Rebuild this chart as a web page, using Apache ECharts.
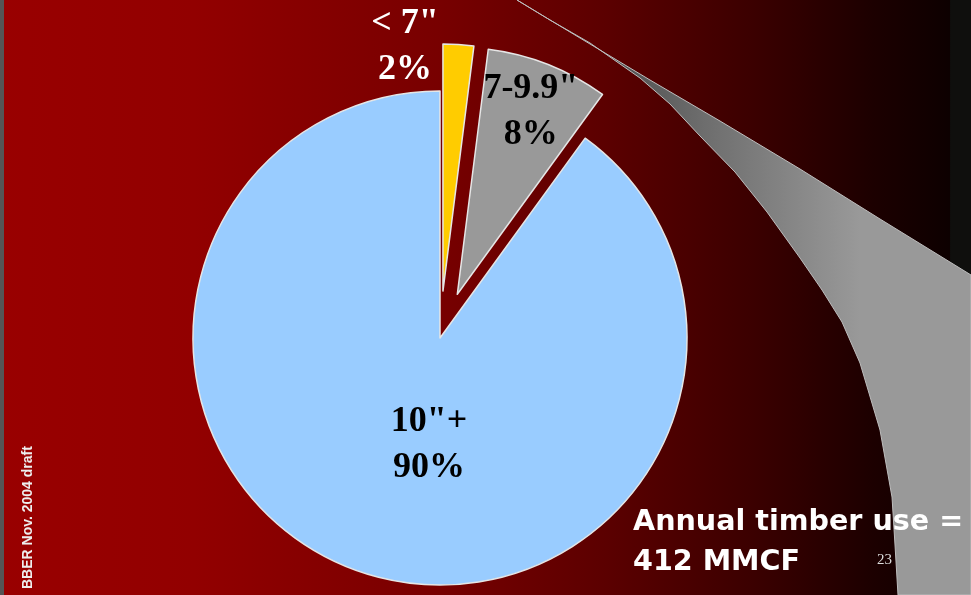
<!DOCTYPE html>
<html>
<head>
<meta charset="utf-8">
<script src="https://cdn.jsdelivr.net/npm/echarts@6/dist/echarts.min.js"></script>
<style>
html,body{margin:0;padding:0;background:#000;}
#chart{width:971px;height:595px;}
</style>
</head>
<body>
<div id="chart"></div>
<script>
// ---- data ----
var categories = ['< 7"', '7-9.9"', '10"+'];
var shares = [2, 8, 90];
var sliceColors = ['#FFCC00', '#999999', '#99CCFF'];
var exploded = [true, true, false];
var labelColors = ['#ffffff', '#000000', '#000000'];
var titleLines = ['Annual timber use =', '412 MMCF'];
var footnote = 'BBER Nov. 2004 draft';
var pageNumber = '23';

// label nudges (pixels) relative to the default inside position
var labelNudge = [[-46, -118], [27, -65], [28, -14]];

var chart = echarts.init(document.getElementById('chart'), null, {renderer: 'canvas'});

var pieData = categories.map(function (c, i) {
  return {
    name: c,
    value: shares[i],
    selected: exploded[i],
    itemStyle: {color: sliceColors[i]},
    label: {color: labelColors[i]}
  };
});

var option = {
  animation: false,
  backgroundColor: {
    type: 'linear', x: 0, y: 0, x2: 1, y2: 0,
    colorStops: [
      {offset: 0, color: '#990000'},
      {offset: 0.2, color: '#920000'},
      {offset: 0.45, color: '#780000'},
      {offset: 0.62, color: '#5c0000'},
      {offset: 0.78, color: '#3a0000'},
      {offset: 0.9, color: '#1c0000'},
      {offset: 0.978, color: '#0d0000'},
      {offset: 0.979, color: '#0f0f0d'},
      {offset: 1, color: '#0f0f0d'}
    ]
  },
  graphic: [
    {type: 'rect', z: 0, shape: {x: 0, y: 0, width: 4, height: 595}, style: {fill: '#555555'}, silent: true},
    {
      type: 'polygon', z: 1, silent: true,
      shape: {
        points: [
          [517, 0], [545, 17], [580, 38], [650, 80], [720, 121], [800, 169], [880, 219], [971, 275],
          [971, 595], [898, 595], [895, 545], [892, 497], [880, 430], [860, 363], [842, 322],
          [822, 290], [800, 258], [767, 212], [735, 172], [700, 136], [670, 104], [640, 78],
          [590, 43], [550, 20]
        ]
      },
      style: {
        fill: {
          type: 'linear', x: 580, y: 0, x2: 860, y2: 0, global: true,
          colorStops: [
            {offset: 0, color: '#444444'},
            {offset: 0.45, color: '#6e6e6e'},
            {offset: 1, color: '#999999'}
          ]
        },
        stroke: '#bdbdbd', lineWidth: 1
      }
    },
    {
      type: 'text', z: 5, silent: true, left: 633, top: 503,
      style: {
        text: titleLines.join('\n'), fill: '#ffffff',
        font: 'bold 28.6px "DejaVu Sans"', lineHeight: 40
      }
    },
    {
      type: 'text', z: 5, silent: true, left: 877, top: 553,
      style: {text: pageNumber, fill: '#dddddd', font: '15px "Liberation Serif"'}
    },
    {
      type: 'text', z: 5, silent: true, x: 21, y: 589, rotation: Math.PI / 2,
      style: {
        text: footnote, fill: '#eeeeee', font: 'bold 14px "Liberation Sans"',
        align: 'left', verticalAlign: 'top'
      }
    }
  ],
  series: [{
    type: 'pie',
    z: 3,
    center: [440, 338],
    radius: [0, 247],
    startAngle: 90,
    clockwise: true,
    selectedMode: 'multiple',
    selectedOffset: 47,
    avoidLabelOverlap: false,
    emphasis: {disabled: true},
    itemStyle: {borderColor: '#e6e6e6', borderWidth: 1.5},
    label: {
      show: true,
      position: 'inside',
      formatter: function (p) { return p.name + '\n' + Math.round(p.percent) + '%'; },
      fontFamily: 'Liberation Serif',
      fontWeight: 'bold',
      fontSize: 36,
      lineHeight: 46
    },
    labelLine: {show: false},
    labelLayout: function (params) {
      var n = labelNudge[params.dataIndex];
      return {dx: n[0], dy: n[1]};
    },
    data: pieData
  }]
};
chart.setOption(option);
</script>
</body>
</html>
